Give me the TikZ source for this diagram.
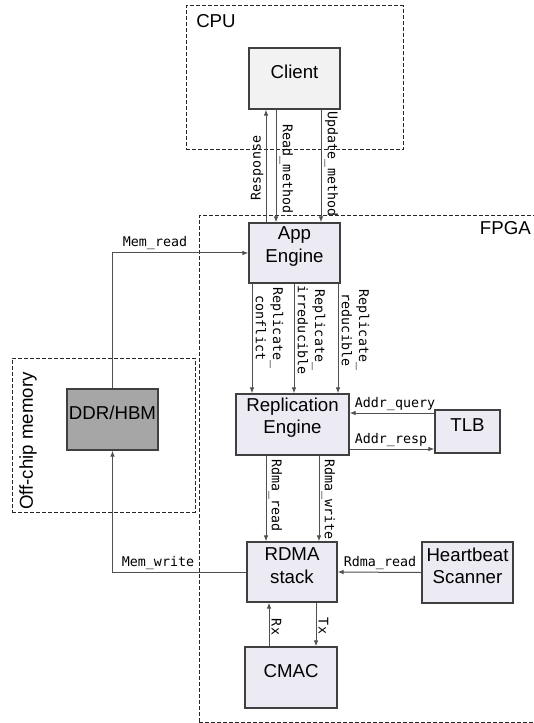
\documentclass[tikz,border=0pt]{standalone}
\usepackage{fontspec}
\setmainfont{Liberation Sans}
\newfontfamily\monofont{DejaVu Sans Mono}
\usetikzlibrary{arrows.meta,fit}
\definecolor{boxfill}{HTML}{ECEAF2}
\definecolor{clientfill}{HTML}{F2F2F2}
\definecolor{memfill}{HTML}{A6A6A6}
\definecolor{edgecol}{HTML}{404040}
\definecolor{linecol}{HTML}{505050}
\begin{document}
\begin{tikzpicture}[x=0.75pt,y=-0.75pt,
 blk/.style={draw=edgecol, line width=1pt, fill=boxfill, inner sep=0pt, align=center, font=\fontsize{14}{17}\selectfont},
 grp/.style={draw=black!85, line width=0.75pt, dash pattern=on 3pt off 1.5pt, inner sep=0pt},
 arr/.style={draw=linecol, line width=0.75pt, -{Latex[length=4.5pt,width=3.5pt]}},
 lbl/.style={font=\monofont\fontsize{10}{13}\selectfont, inner sep=1pt, align=center},
 grplbl/.style={font=\fontsize{14}{17}\selectfont, inner sep=0pt}]
\fill[white] (0,0) rectangle (533,723);
\useasboundingbox (0,0) rectangle (533,723);
% groups
\node[grp, fit={(186,6) (403,150)}] (cpu) {};
\node[grp, fit={(199,216) (580,722)}] (fpga) {};
\node[grp, fit={(12,358) (195,512)}] (offchip) {};
\node[grplbl, anchor=west] (cpulbl) at (196,21) {CPU};
\node[grplbl, anchor=east] (fpgalbl) at (531,228) {FPGA};
\node[grplbl, rotate=90] (offlbl) at (28,441) {Off-chip memory};
% blocks
\node[blk, fill=clientfill, fit={(249,48) (340,109)}] (client) {Client};
\node[blk, fit={(249,223) (340,283)}] (app) {App\\Engine};
\node[blk, fit={(236,394) (349,455)}] (rep) {Replication\\Engine};
\node[blk, fit={(435,410) (500,453)}] (tlb) {TLB};
\node[blk, fit={(247,542) (337,602)}] (rdma) {RDMA\\stack};
\node[blk, fit={(422,542) (513,603)}] (hb) {Heartbeat\\Scanner};
\node[blk, fit={(245,647) (337,708)}] (cmac) {CMAC};
\node[blk, fill=memfill, fit={(67,389) (158,450)}] (ddr) {DDR/HBM};
% helper coordinates
\coordinate (xresp) at (266,0);
\coordinate (xread) at (276,0);
\coordinate (xupd) at (321,0);
\coordinate (xc1) at (252,0);
\coordinate (xc2) at (294,0);
\coordinate (xc3) at (338,0);
\coordinate (xrr) at (266,0);
\coordinate (xrw) at (319,0);
\coordinate (xrx) at (269,0);
\coordinate (xtx) at (316,0);
\coordinate (yq) at (0,413);
\coordinate (yr) at (0,449);
% client <-> app
\draw[arr] (app.north -| xresp) -- (client.south -| xresp);
\draw[arr] (client.south -| xread) -- (app.north -| xread);
\draw[arr] (client.south -| xupd) -- (app.north -| xupd);
\node[lbl, rotate=90, anchor=south] (lresp) at (265,168) {Response};
\node[lbl, rotate=-90, anchor=south] (lread) at (278,169) {Read\_method};
\node[lbl, rotate=-90, anchor=south] (lupd) at (323,164) {Update\_method};
% app -> rep
\draw[arr] (app.south -| xc1) -- (rep.north -| xc1);
\draw[arr] (app.south -| xc2) -- (rep.north -| xc2);
\draw[arr] (app.south -| xc3) -- (rep.north -| xc3);
\node[lbl, rotate=-90, anchor=south] (lc1) at (254,328) {Replicate\_\\conflict};
\node[lbl, rotate=-90, anchor=south] (lc2) at (296,330) {Replicate\_\\irreducible};
\node[lbl, rotate=-90, anchor=south] (lc3) at (340,330) {Replicate\_\\reducible};
% rep <-> tlb
\draw[arr] (tlb.west |- yq) -- (rep.east |- yq);
\draw[arr] (rep.east |- yr) -- (tlb.west |- yr);
\node[lbl, anchor=south] (lq) at (395,412) {Addr\_query};
\node[lbl, anchor=south] (lr) at (391,448) {Addr\_resp};
% rep -> rdma
\draw[arr] (rep.south -| xrr) -- (rdma.north -| xrr);
\draw[arr] (rep.south -| xrw) -- (rdma.north -| xrw);
\node[lbl, rotate=-90, anchor=south west] (lrr) at (267,458) {Rdma\_read};
\node[lbl, rotate=-90, anchor=south west] (lrw) at (320,458) {Rdma\_write};
% heartbeat -> rdma
\draw[arr] (hb.west) -- (rdma.east);
\node[lbl, anchor=south] (lhb) at (380,571) {Rdma\_read};
% memory
\draw[arr] (ddr.north) |- (app.west);
\node[lbl, anchor=south] (lmr) at (155,251) {Mem\_read};
\draw[arr] (rdma.west) -| (ddr.south);
\node[lbl, anchor=south] (lmw) at (158,571) {Mem\_write};
% rdma <-> cmac
\draw[arr] (cmac.north -| xrx) -- (rdma.south -| xrx);
\draw[arr] (rdma.south -| xtx) -- (cmac.north -| xtx);
\node[lbl, rotate=-90, anchor=south] (lrx) at (270,627) {Rx};
\node[lbl, rotate=-90, anchor=south] (ltx) at (317,626) {Tx};
\end{tikzpicture}
\end{document}
